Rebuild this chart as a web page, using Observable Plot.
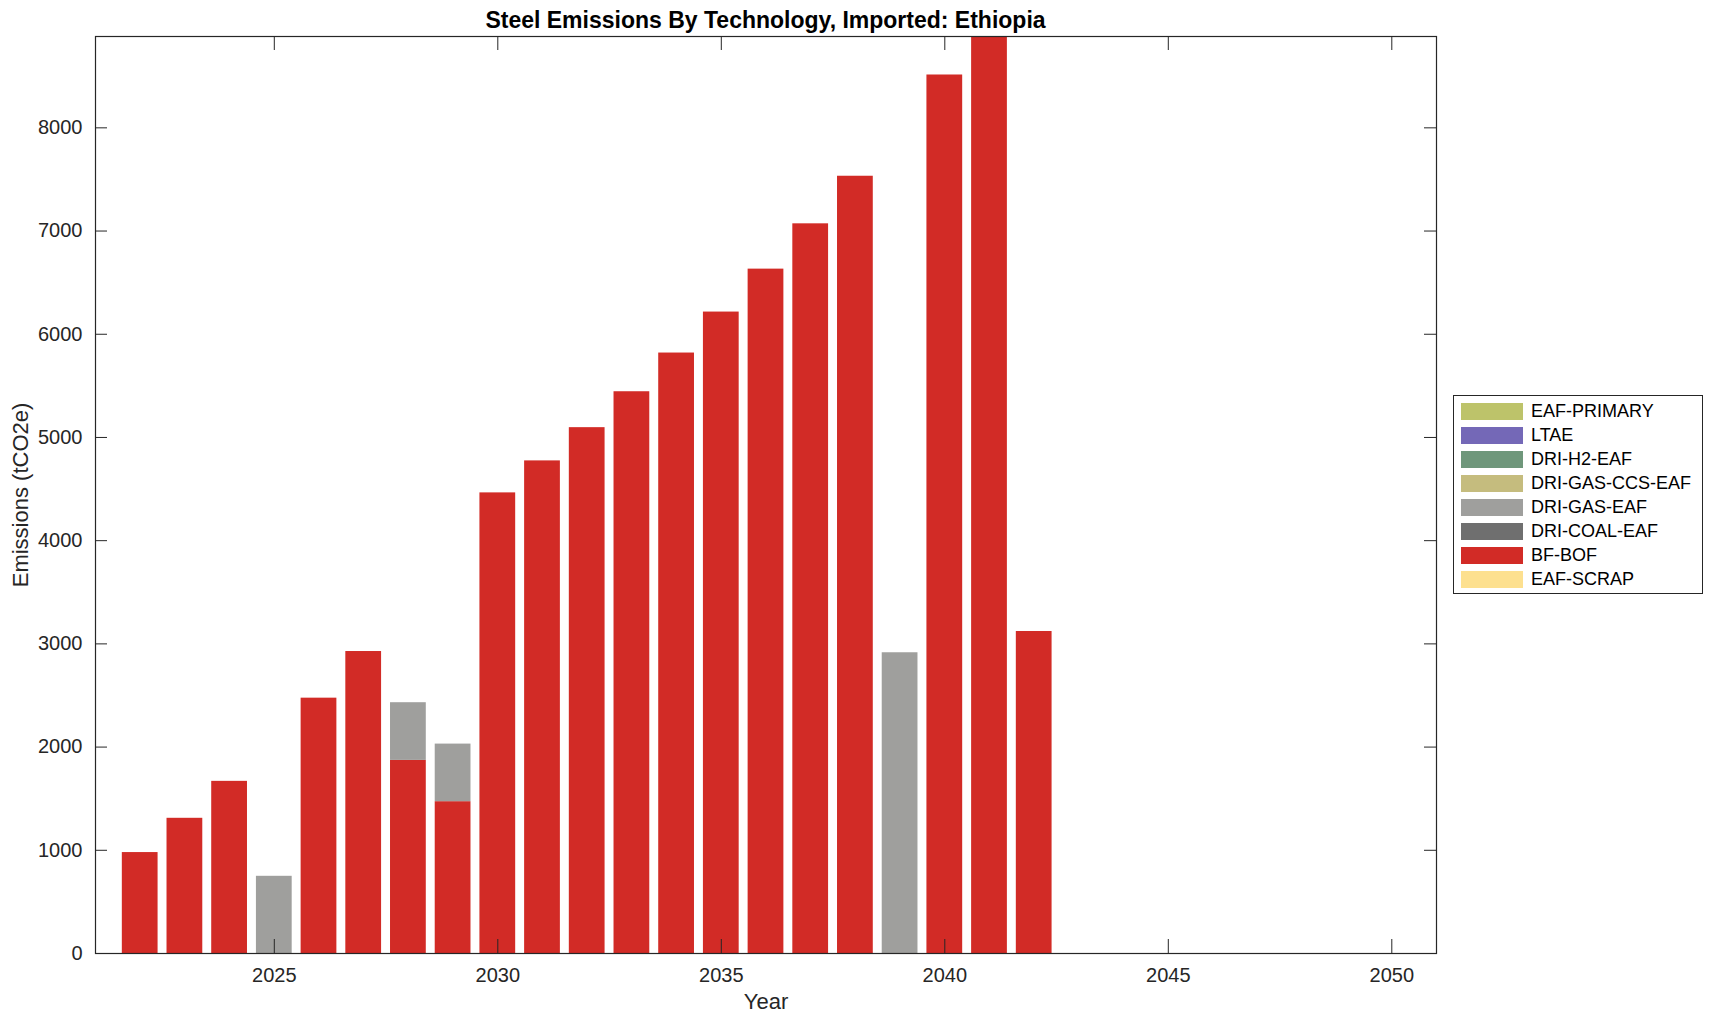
<!DOCTYPE html>
<html><head><meta charset="utf-8">
<script src="https://cdn.jsdelivr.net/npm/d3@7"></script>
<script src="https://cdn.jsdelivr.net/npm/@observablehq/plot@0.6"></script>
<style>
body{margin:0;background:#fff;font-family:"Liberation Sans",Arial,Helvetica,sans-serif;}
#wrap{position:relative;width:1714px;height:1021px;overflow:hidden;}
#title{height:34px;box-sizing:border-box;padding-top:9px;line-height:23px;font-size:23px;font-weight:bold;text-align:center;margin-left:95px;width:1341px;color:#000;white-space:nowrap;}
#chart svg{display:block;}
#legend{position:absolute;left:1453px;top:395px;width:250px;height:199px;box-sizing:border-box;border:1px solid #262626;padding:3px 0 0 7px;background:#fff;}
.row{display:flex;align-items:center;height:24px;font-size:18px;color:#000;white-space:nowrap;}
.sw{width:62px;height:17px;margin-right:8px;flex:none;}
</style></head><body>
<div id="wrap">
  <div id="title">Steel Emissions By Technology, Imported: Ethiopia</div>
  <div id="chart"></div>
  <div id="legend"></div>
</div>
<script>
// ---- data ----
const years = [2022,2023,2024,2025,2026,2027,2028,2029,2030,2031,2032,2033,2034,2035,2036,2037,2038,2039,2040,2041,2042,2043,2044,2045,2046,2047,2048,2049,2050];
const bfBof = [978,1310,1668,0,2474,2926,1871,1471,4463,4773,5095,5443,5818,6215,6631,7070,7531,0,8512,8885,3120,0,0,0,0,0,0,0,0];
const driGasEaf = [0,0,0,748,0,0,559,558,0,0,0,0,0,0,0,0,0,2914,0,0,0,0,0,0,0,0,0,0,0];
// other technologies are zero in every year
const legendTechs = ["EAF-PRIMARY","LTAE","DRI-H2-EAF","DRI-GAS-CCS-EAF","DRI-GAS-EAF","DRI-COAL-EAF","BF-BOF","EAF-SCRAP"];
const legendColors = ["#bdc36a","#7468b7","#6f977b","#c5bc7e","#9f9f9d","#6f6f6f","#d22b26","#fde08f"];
const stackOrder = ["EAF-SCRAP","BF-BOF","DRI-COAL-EAF","DRI-GAS-EAF","DRI-GAS-CCS-EAF","DRI-H2-EAF","LTAE","EAF-PRIMARY"];
const xTicks = [2025,2030,2035,2040,2045,2050];
const yTicks = [0,1000,2000,3000,4000,5000,6000,7000,8000];
const xDomain = [2021, 2051];
const yDomain = [0, 8885];
const xLabel = "Year";
const yLabel = "Emissions (tCO2e)";

// ---- build table ----
const seriesByTech = {"BF-BOF": bfBof, "DRI-GAS-EAF": driGasEaf};
const rows = [];
for (const tech of stackOrder) {
  const vals = seriesByTech[tech];
  if (!vals) continue;
  years.forEach((yr, i) => { if (vals[i] > 0) rows.push({year: yr, tech, value: vals[i]}); });
}

const W = 1714, H = 987;
const mL = 95, mR = 278, mT = 2, mB = 68;
const plotW = W - mL - mR, plotH = H - mT - mB;
const ink = "#262626";
const fontFam = "Liberation Sans, Arial, Helvetica, sans-serif";

const chart = Plot.plot({
  width: W, height: H,
  marginLeft: mL, marginRight: mR, marginTop: mT, marginBottom: mB,
  style: {fontFamily: fontFam, fontSize: "20px", color: ink, background: "#fff", overflow: "visible"},
  x: {domain: xDomain},
  y: {domain: yDomain},
  color: {domain: legendTechs, range: legendColors},
  marks: [
    Plot.rectY(rows, Plot.stackY({order: stackOrder}, {x1: d => d.year - 0.4, x2: d => d.year + 0.4, y: "value", fill: "tech"})),
    Plot.frame({stroke: ink, strokeWidth: 1.2}),
    Plot.axisX(xTicks, {tickSize: 0, tickPadding: 14, tickFormat: d => String(d), label: null, fontSize: 20}),
    Plot.axisY(yTicks, {tickSize: 0, tickPadding: 13, tickFormat: d => String(d), label: null, fontSize: 20}),
    Plot.tickX(xTicks, {x: d => d, insetTop: plotH - 14, stroke: ink}),
    Plot.tickX(xTicks, {x: d => d, insetBottom: plotH - 14, stroke: ink}),
    Plot.tickY(yTicks, {y: d => d, insetRight: plotW - 12, stroke: ink}),
    Plot.tickY(yTicks, {y: d => d, insetLeft: plotW - 12, stroke: ink}),
    Plot.text([xLabel], {text: d => d, frameAnchor: "bottom", textAnchor: "middle", lineAnchor: "bottom", dy: 55, fontSize: 22, fill: ink}),
    Plot.text([yLabel], {text: d => d, frameAnchor: "left", textAnchor: "middle", lineAnchor: "bottom", rotate: -90, dx: -68, fontSize: 22, fill: ink})
  ]
});
document.getElementById("chart").appendChild(chart);

// ---- legend ----
const leg = d3.select("#legend");
legendTechs.forEach((t, i) => {
  const r = leg.append("div").attr("class", "row");
  r.append("div").attr("class", "sw").style("background", legendColors[i]);
  r.append("span").text(t);
});
</script>
</body></html>
